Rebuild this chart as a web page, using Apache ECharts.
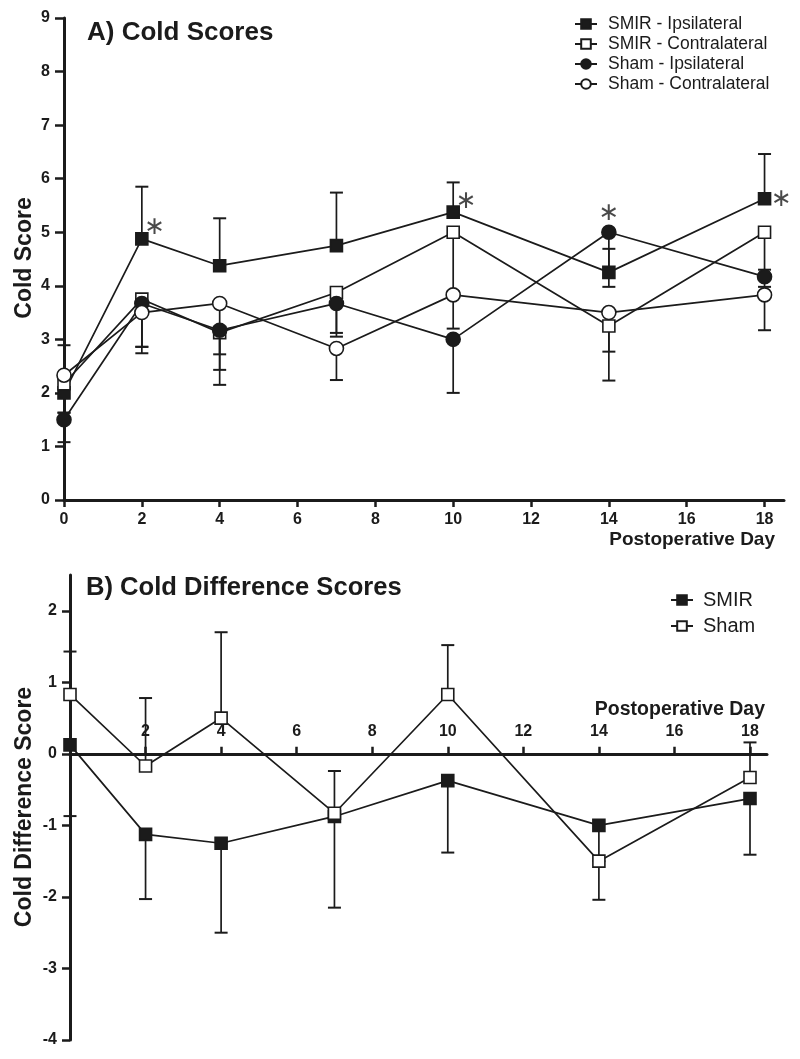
<!DOCTYPE html>
<html><head><meta charset="utf-8">
<script src="https://cdn.jsdelivr.net/npm/echarts@6/dist/echarts.min.js"></script>
<style>html,body{margin:0;padding:0;background:#fff}#c{width:800px;height:1059px}</style>
</head><body><div id="c"></div>
<script>
// ---------- data ----------
const days = [0, 2, 4, 7, 10, 14, 18];
const xTicksTop = [0, 2, 4, 6, 8, 10, 12, 14, 16, 18];
const xTicksBottom = [2, 4, 6, 8, 10, 12, 14, 16, 18];
const yTicksBottom = [-4, -3, -2, -1, 0, 1, 2];

const topNames = ['SMIR - Ipsilateral', 'SMIR - Contralateral', 'Sham - Ipsilateral', 'Sham - Contralateral'];
const smirIpsi      = [2.0, 4.875, 4.375, 4.75, 5.375, 4.25, 5.625];
const smirIpsiErr   = [2.89, 5.85, 5.26, 5.74, 5.93, 4.69, 6.46];
const smirContra    = [2.17, 3.75, 3.125, 3.875, 5.0, 3.25, 5.0];
const smirContraErr = [1.63, 2.74, 2.15, 3.05, 3.9, 2.23, 4.3];
const shamIpsi      = [1.5, 3.67, 3.17, 3.67, 3.0, 5.0, 4.17];
const shamIpsiErr   = [1.08, 2.86, 2.43, 3.12, 2.0, 3.98, 3.98];
const shamContra    = [2.33, 3.5, 3.67, 2.83, 3.83, 3.5, 3.83];
const shamContraErr = [1.63, 2.86, 2.72, 2.24, 3.2, 2.77, 3.17];

const starDays   = [2, 10, 14, 18];
const starValues = [4.875, 5.375, 5.0, 5.625];

const bottomNames = ['SMIR', 'Sham'];
const diffSmir    = [0.125, -1.125, -1.25, -0.875, -0.375, -1.0, -0.625];
const diffSmirErr = [-0.87, -2.03, -2.5, -2.15, -1.38, -1.5, -1.41];
const diffSham    = [0.83, -0.17, 0.5, -0.83, 0.83, -1.5, -0.33];
const diffShamErr = [1.43, 0.78, 1.70, -0.24, 1.52, -2.04, 0.16];

// ---------- style ----------
const INK = '#1b1b1b';
const FONT = 'Liberation Sans, Arial, sans-serif';
const starOffsets = [[13, -11], [13, -11], [0, -19], [17, 1]];

const bottomYMin = -4, bottomYMax = 2.5, bottomGridH = 465;
const zeroOffset = -bottomGridH * (0 - bottomYMin) / (bottomYMax - bottomYMin);

function pts(vals) { return days.map((d, i) => [d, vals[i]]); }
function errPts(vals, errs) { return days.map((d, i) => [d, vals[i], errs[i]]); }

function errRender(params, api) {
  const x = api.value(0), v = api.value(1), e = api.value(2);
  const p0 = api.coord([x, v]);
  const p1 = api.coord([x, e]);
  const hw = 6.5;
  return {
    type: 'group',
    children: [
      { type: 'line', shape: { x1: p0[0], y1: p0[1], x2: p1[0], y2: p1[1] }, style: { stroke: INK, lineWidth: 1.7 } },
      { type: 'line', shape: { x1: p1[0] - hw, y1: p1[1], x2: p1[0] + hw, y2: p1[1] }, style: { stroke: INK, lineWidth: 2 } }
    ]
  };
}

function errSeries(vals, errs, gi) {
  return {
    type: 'custom', xAxisIndex: gi, yAxisIndex: gi, z: 1, silent: true,
    renderItem: errRender, encode: { x: 0, y: [1, 2] },
    data: errPts(vals, errs)
  };
}

function lineSeries(name, vals, symbol, filled, gi) {
  return {
    type: 'line', name: name, xAxisIndex: gi, yAxisIndex: gi, z: 3,
    data: pts(vals), symbol: symbol, symbolSize: symbol === 'circle' ? 14 : 12, showAllSymbol: true,
    lineStyle: { color: INK, width: 1.7 },
    itemStyle: { color: filled ? INK : '#ffffff', borderColor: INK, borderWidth: 1.6 },
    emphasis: { disabled: true }
  };
}

const axisLabelStyle = { color: INK, fontFamily: FONT, fontWeight: 'bold', fontSize: 16 };
const axisLineStyle = { show: true, lineStyle: { color: INK, width: 3 } };

const option = {
  animation: false,
  backgroundColor: '#ffffff',
  grid: [
    { left: 64, top: 18, width: 720, height: 482, outerBoundsMode: 'none' },
    { left: 70, top: 575, width: 697, height: bottomGridH, outerBoundsMode: 'none' }
  ],
  xAxis: [
    {
      type: 'value', gridIndex: 0, min: 0, max: 18.5,
      axisLine: Object.assign({ onZero: false }, axisLineStyle),
      axisTick: { show: true, length: 7, lineStyle: { color: INK, width: 2.5 }, customValues: xTicksTop },
      axisLabel: Object.assign({ margin: 12, customValues: xTicksTop }, axisLabelStyle),
      splitLine: { show: false }
    },
    {
      type: 'value', gridIndex: 1, min: 0, max: 18.45, offset: zeroOffset,
      axisLine: Object.assign({ onZero: false }, axisLineStyle),
      axisTick: { show: true, inside: true, length: 7, lineStyle: { color: INK, width: 2.5 }, customValues: xTicksBottom },
      axisLabel: Object.assign({ inside: true, margin: 14, customValues: xTicksBottom }, axisLabelStyle),
      splitLine: { show: false }
    }
  ],
  yAxis: [
    {
      type: 'value', gridIndex: 0, min: 0, max: 9, interval: 1,
      axisLine: axisLineStyle,
      axisTick: { show: true, length: 9, lineStyle: { color: INK, width: 2.5 } },
      axisLabel: Object.assign({ margin: 14 }, axisLabelStyle),
      splitLine: { show: false }
    },
    {
      type: 'value', gridIndex: 1, min: bottomYMin, max: bottomYMax,
      axisLine: Object.assign({ onZero: false }, axisLineStyle),
      axisTick: { show: true, length: 8, lineStyle: { color: INK, width: 2.5 }, customValues: yTicksBottom },
      axisLabel: Object.assign({ margin: 13, customValues: yTicksBottom }, axisLabelStyle),
      splitLine: { show: false }
    }
  ],
  legend: [
    {
      data: topNames, orient: 'vertical', left: 569, top: 9, itemWidth: 22, itemHeight: 12, itemGap: 0,
      textStyle: { color: INK, fontFamily: FONT, fontSize: 17.5, lineHeight: 20, padding: [0, 0, 0, 6] },
      selectedMode: false
    },
    {
      data: bottomNames, orient: 'vertical', left: 665, top: 585, itemWidth: 22, itemHeight: 12, itemGap: 6,
      textStyle: { color: INK, fontFamily: FONT, fontSize: 20, lineHeight: 20, padding: [0, 0, 0, 5] },
      selectedMode: false
    }
  ],
  graphic: [
    { type: 'text', left: 87, top: 20, style: { text: 'A) Cold Scores', font: 'bold 26px ' + FONT, fill: INK } },
    { type: 'text', left: 86, top: 575, style: { text: 'B) Cold Difference Scores', font: 'bold 25.6px ' + FONT, fill: INK } },
    { type: 'text', x: 24.5, y: 258, rotation: Math.PI / 2, style: { text: 'Cold Score', font: 'bold 23px ' + FONT, fill: INK, align: 'center', verticalAlign: 'middle' } },
    { type: 'text', x: 24.5, y: 807, rotation: Math.PI / 2, style: { text: 'Cold Difference Score', font: 'bold 23px ' + FONT, fill: INK, align: 'center', verticalAlign: 'middle' } },
    { type: 'text', x: 775, y: 540, style: { text: 'Postoperative Day', font: 'bold 19px ' + FONT, fill: INK, align: 'right', verticalAlign: 'middle' } },
    { type: 'text', x: 765, y: 710, style: { text: 'Postoperative Day', font: 'bold 19.5px ' + FONT, fill: INK, align: 'right', verticalAlign: 'middle' } }
  ],
  series: [
    errSeries(smirIpsi, smirIpsiErr, 0),
    errSeries(smirContra, smirContraErr, 0),
    errSeries(shamIpsi, shamIpsiErr, 0),
    errSeries(shamContra, shamContraErr, 0),
    lineSeries(topNames[0], smirIpsi, 'rect', true, 0),
    lineSeries(topNames[1], smirContra, 'rect', false, 0),
    lineSeries(topNames[2], shamIpsi, 'circle', true, 0),
    lineSeries(topNames[3], shamContra, 'circle', false, 0),
    {
      type: 'scatter', xAxisIndex: 0, yAxisIndex: 0, z: 5, silent: true, symbolSize: 1,
      itemStyle: { color: 'rgba(0,0,0,0)' },
      data: starDays.map((d, i) => ({
        value: [d, starValues[i]],
        label: {
          show: true, position: 'inside', formatter: '\u2217', offset: starOffsets[i],
          fontFamily: 'DejaVu Sans', fontSize: 25, color: INK
        }
      }))
    },
    errSeries(diffSmir, diffSmirErr, 1),
    errSeries(diffSham, diffShamErr, 1),
    lineSeries(bottomNames[0], diffSmir, 'rect', true, 1),
    lineSeries(bottomNames[1], diffSham, 'rect', false, 1)
  ]
};

const chart = echarts.init(document.getElementById('c'), null, { renderer: 'canvas' });
chart.setOption(option);
</script>
</body></html>
